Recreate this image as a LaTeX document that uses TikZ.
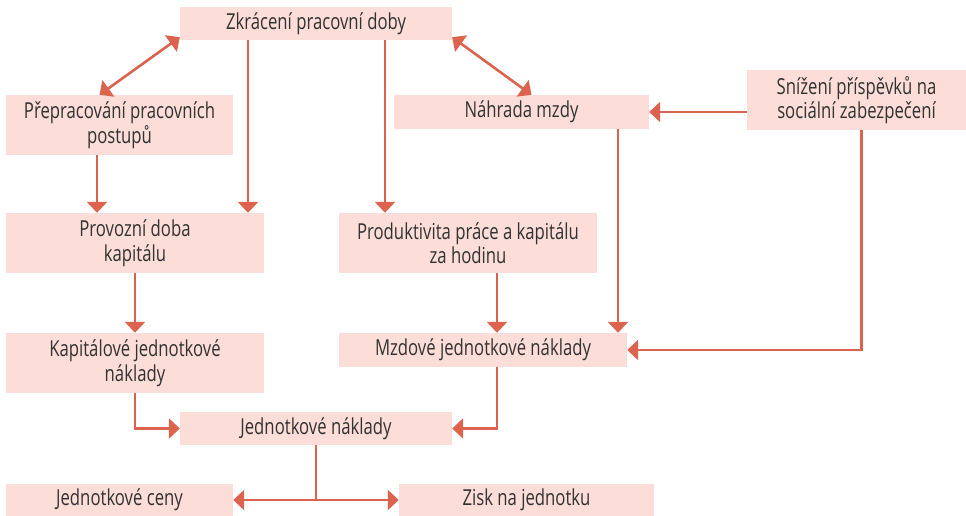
\documentclass[tikz,border=0pt]{standalone}
\usepackage{fontspec}
\setmainfont{Open Sans}[FakeStretch=0.76]
\usepackage{xcolor}
\usetikzlibrary{arrows.meta, calc}

\definecolor{boxfill}{RGB}{252,221,216}
\definecolor{linkred}{RGB}{220,100,78}
\definecolor{txtgray}{RGB}{50,50,50}

\begin{document}
\begin{tikzpicture}[
    x=1pt, y=-1pt,
    box/.style={
        rectangle, fill=boxfill, inner sep=0pt,
        align=center, text=txtgray,
        font=\fontsize{22}{24.5}\selectfont
    },
    arr/.style={line width=2.6pt, draw=linkred, -{Triangle[width=20pt,length=11pt,fill=linkred]}},
    dbl/.style={arr, {Triangle[width=20pt,length=11pt,fill=linkred]}-{Triangle[width=20pt,length=11pt,fill=linkred]}},
]
\useasboundingbox (0,0) rectangle (966,516);

% Top row
\node[box, minimum width=272pt, minimum height=33pt] (zkr) at (316,23.5) {Zkrácení pracovní doby};
\node[box, minimum width=227pt, minimum height=60pt] (prep) at (119.5,125) {Přepracování pracovních\\postupů};
\node[box, minimum width=255pt, minimum height=34pt] (nah) at (521.5,112) {Náhrada mzdy};
\node[box, minimum width=219pt, minimum height=60pt] (sniz) at (856.5,100) {Snížení příspěvků na\\sociální zabezpečení};

% Middle rows
\node[box, minimum width=258pt, minimum height=60pt] (prov) at (135,243) {Provozní doba\\kapitálu};
\node[box, minimum width=258pt, minimum height=60pt] (prod) at (468,243) {Produktivita práce a kapitálu\\za hodinu};
\node[box, minimum width=258pt, minimum height=60pt] (kap) at (135,363) {Kapitálové jednotkové\\náklady};
\node[box, minimum width=288pt, minimum height=34pt] (mzd) at (483,350) {Mzdové jednotkové náklady};

% Bottom rows
\node[box, minimum width=272pt, minimum height=33pt] (jn) at (316,428.5) {Jednotkové náklady};
\node[box, minimum width=227pt, minimum height=32pt] (ceny) at (119.5,500) {Jednotkové ceny};
\node[box, minimum width=255pt, minimum height=32pt] (zisk) at (526.5,500) {Zisk na jednotku};

% Two-way links from the top box
\draw[dbl] ([yshift=3pt]zkr.south west) -- ([xshift=-20pt]prep.north);
\draw[dbl] ([yshift=3pt]zkr.south east) -- ([xshift=10pt]nah.north);

% Straight downward links
\draw[arr] ([xshift=-68pt]zkr.south) -- ([xshift=113pt]prov.north);
\draw[arr] ([xshift=69pt]zkr.south) -- ([xshift=-83pt]prod.north);
\draw[arr] ([xshift=-22.5pt]prep.south) -- ([xshift=-38pt]prov.north);
\draw[arr] (prov.south) -- (kap.north);
\draw[arr] ([xshift=96.5pt]nah.south) -- ([xshift=135pt]mzd.north);
\draw[arr] ([xshift=29pt]prod.south) -- ([xshift=14pt]mzd.north);

% Social contributions
\draw[arr] (sniz.west |- nah.east) -- (nah.east);
\draw[arr] ([xshift=5pt]sniz.south) |- (mzd.east);

% Into unit costs
\draw[arr] (kap.south) |- (jn.west);
\draw[arr] ([xshift=14pt]mzd.south) |- (jn.east);

% Split to prices and profit
\draw[arr] (jn.south) |- (ceny.east);
\draw[arr] (jn.south) |- (zisk.west);

\end{tikzpicture}
\end{document}
